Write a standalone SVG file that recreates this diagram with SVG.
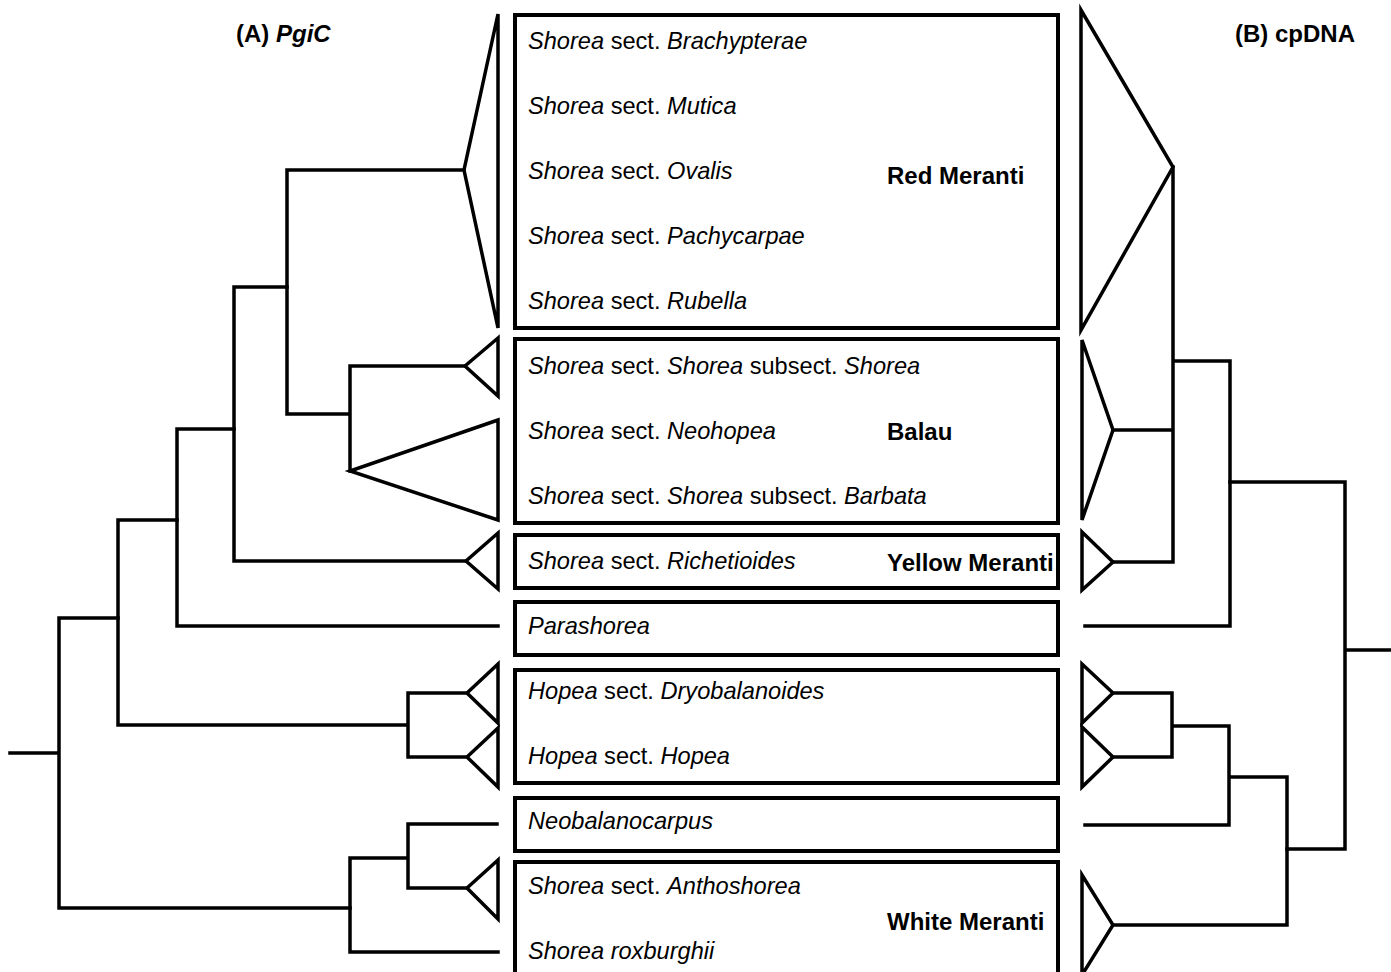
<svg xmlns="http://www.w3.org/2000/svg" width="1391" height="972" viewBox="0 0 1391 972">
<style>
.bg{fill:#fff}
.box{fill:none;stroke:#000;stroke-width:4}
.ln{fill:none;stroke:#000;stroke-width:3.5;stroke-linejoin:miter;stroke-linecap:square}
.tri{fill:none;stroke:#000;stroke-width:3.5;stroke-linejoin:miter}
text{font-family:"Liberation Sans",Arial,sans-serif;font-size:23.6px;fill:#000}
.b{font-weight:bold;font-size:24px}
.i{font-style:italic}
</style>
<rect class="bg" x="0" y="0" width="1391" height="972"/>
<text id="titleA" class="b" x="236" y="42">(A) <tspan class="i">PgiC</tspan></text>
<text id="titleB" class="b" x="1235" y="42">(B) cpDNA</text>

<g id="node-red-meranti">
<rect class="box" x="515" y="15" width="543" height="313"/>
<text x="528" y="49"><tspan class="i">Shorea</tspan> sect. <tspan class="i">Brachypterae</tspan></text>
<text x="528" y="114"><tspan class="i">Shorea</tspan> sect. <tspan class="i">Mutica</tspan></text>
<text x="528" y="179"><tspan class="i">Shorea</tspan> sect. <tspan class="i">Ovalis</tspan></text>
<text x="528" y="244"><tspan class="i">Shorea</tspan> sect. <tspan class="i">Pachycarpae</tspan></text>
<text x="528" y="309"><tspan class="i">Shorea</tspan> sect. <tspan class="i">Rubella</tspan></text>
<text class="b" x="887" y="184">Red Meranti</text>
</g>
<g id="node-balau">
<rect class="box" x="515" y="339" width="543" height="184"/>
<text x="528" y="374"><tspan class="i">Shorea</tspan> sect. <tspan class="i">Shorea</tspan> subsect. <tspan class="i">Shorea</tspan></text>
<text x="528" y="439"><tspan class="i">Shorea</tspan> sect. <tspan class="i">Neohopea</tspan></text>
<text x="528" y="504"><tspan class="i">Shorea</tspan> sect. <tspan class="i">Shorea</tspan> subsect. <tspan class="i">Barbata</tspan></text>
<text class="b" x="887" y="440">Balau</text>
</g>
<g id="node-yellow-meranti">
<rect class="box" x="515" y="535" width="543" height="53"/>
<text x="528" y="569"><tspan class="i">Shorea</tspan> sect. <tspan class="i">Richetioides</tspan></text>
<text class="b" x="887" y="571">Yellow Meranti</text>
</g>
<g id="node-parashorea">
<rect class="box" x="515" y="602" width="543" height="53"/>
<text class="i" x="528" y="634">Parashorea</text>
</g>
<g id="node-hopea">
<rect class="box" x="515" y="670" width="543" height="113"/>
<text x="528" y="699"><tspan class="i">Hopea</tspan> sect. <tspan class="i">Dryobalanoides</tspan></text>
<text x="528" y="764"><tspan class="i">Hopea</tspan> sect. <tspan class="i">Hopea</tspan></text>
</g>
<g id="node-neobalanocarpus">
<rect class="box" x="515" y="798" width="543" height="53"/>
<text class="i" x="528" y="829">Neobalanocarpus</text>
</g>
<g id="node-white-meranti">
<rect class="box" x="515" y="862" width="543" height="120"/>
<text x="528" y="894"><tspan class="i">Shorea</tspan> sect. <tspan class="i">Anthoshorea</tspan></text>
<text class="i" x="528" y="959">Shorea roxburghii</text>
<text class="b" x="887" y="930">White Meranti</text>
</g>

<g id="connectors">
<polygon class="tri" points="498,14 464,170 498,328"/>
<polygon class="tri" points="498,338 465,366 498,396"/>
<polygon class="tri" points="498,420 350,471 498,520"/>
<polygon class="tri" points="498,533 466,561 498,589"/>
<polygon class="tri" points="498,664 467,693 498,723"/>
<polygon class="tri" points="498,728 467,757 498,787"/>
<polygon class="tri" points="498,860 467,888 498,919"/>
<path class="ln" d="M464,170 H287 V414 M287,414 H350 V366 H465 M350,414 V471"/>
<path class="ln" d="M287,287 H234 V561 H466"/>
<path class="ln" d="M234,429 H177 V626 H498"/>
<path class="ln" d="M177,520 H118 V725 H408 M408,693 V757 M408,693 H467 M408,757 H467"/>
<path class="ln" d="M118,618 H59 V908 H350 M10,753 H59"/>
<path class="ln" d="M350,858 V952 H498 M350,858 H408 V824 H497 M408,858 V888 H467"/>
<polygon class="tri" points="1081,10 1173,167 1081,330"/>
<polygon class="tri" points="1082,340 1113,430 1082,520"/>
<polygon class="tri" points="1082,532 1113,562 1082,590"/>
<polygon class="tri" points="1082,664 1113,693 1082,723"/>
<polygon class="tri" points="1082,727 1113,757 1082,787"/>
<polygon class="tri" points="1082,875 1113,925 1082,975"/>
<path class="ln" d="M1173,167 V562 H1113 M1113,430 H1173 M1173,361 H1230 V626 H1085"/>
<path class="ln" d="M1230,482 H1345 V849 H1287 M1345,650 H1391"/>
<path class="ln" d="M1113,693 H1172 V757 H1113 M1172,726 H1229 V825 H1085 M1229,777 H1287 V925 H1113"/>
</g>
</svg>
